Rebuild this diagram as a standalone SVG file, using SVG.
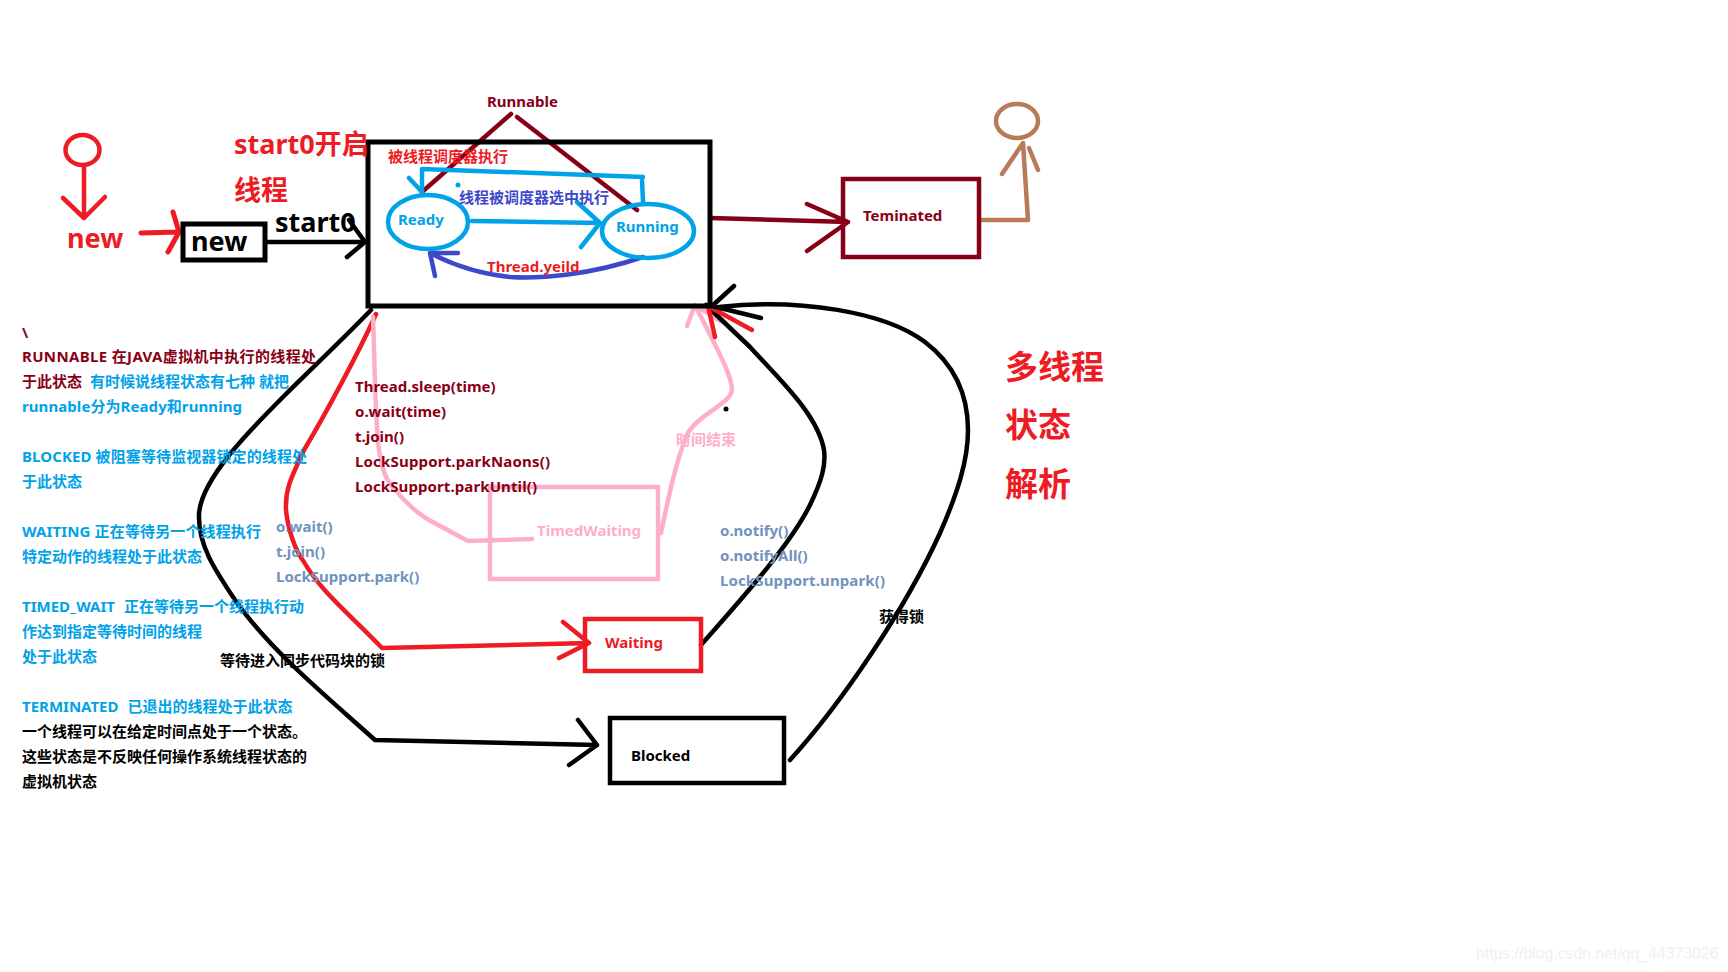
<svg xmlns="http://www.w3.org/2000/svg" width="1728" height="972" viewBox="0 0 1728 972">
<style>
text{font-family:"Noto Sans","Noto Sans CJK SC",sans-serif;font-size:15px;font-weight:700}
.l{fill:none;stroke-linecap:round;stroke-linejoin:round;stroke-width:4.500}
.b{fill:none;stroke-width:4.500}
.k{stroke:#000}.r{stroke:#ed1c24}.c{stroke:#00a2e8}.d{stroke:#880015}.p{stroke:#3f48cc}.g{stroke:#ffaec9}.w{stroke:#b97a57}
.tk{fill:#000}.tr{fill:#ed1c24}.tc{fill:#00a2e8}.td{fill:#880015}.tp{fill:#3f48cc}.tg{fill:#ffaec9}.tb{fill:#7092be}
.big{font-size:27px}.huge{font-size:33px}
</style>
<rect width="1728" height="972" fill="#fff"/>
<g id="connectors">
<path class="l k" d="M267 242H365M349 220L365 242L347 257"/>
<path class="l r" style="stroke-width:5" d="M141 233L179 232M173 212L179 232L168 252"/>
<path class="l d" d="M422 192L511 114M517 117L637 210"/>
<path class="l c" d="M472 221L600 223M577 202L600 223L581 247"/>
<path class="l c" d="M643 202L642 180M643 177L422 169V192M409 178L422 192"/>
<path class="l p" d="M643 257C590 275 540 279 510 277C480 274 455 266 430 253M458 253L430 253L435 276"/>
<path class="l k" d="M371 310C340 342 310 370 285 395C250 430 200 480 199 515C198 545 215 570 235 600C270 650 325 695 375 740L597 745M578 720L597 745L569 765"/>
<path class="l r" d="M376 314C360 350 325 415 304 450C290 480 285 490 286 510C288 530 295 550 304 562C320 590 345 610 382 648L589 643M563 622L589 643L559 658"/>
<path class="l g" d="M373 317C375 370 375 420 379 450C382 470 386 480 393 487C405 503 420 515 429 520L468 541L532 539"/>
<path class="l g" d="M661 533C668 500 675 465 686 437C695 415 730 405 732 390C732 375 715 345 695 305M687 326L695 305L722 322"/>
<circle class="tk" cx="726" cy="409" r="2.500"/>
<circle class="tc" cx="458" cy="185" r="2.500"/>
<path class="l k" d="M701 645C745 595 790 545 810 505C822 480 826 465 824 450C818 415 780 380 750 347L706 305"/>
<path class="l r" d="M708 306L752 330M708 306L715 337"/>
<path class="l k" d="M790 760C840 705 905 610 940 533C958 492 968 460 968 430C968 395 955 365 925 342C885 312 800 298 719 307M761 318L712 306L734 286"/>
<path class="l d" d="M710 218L848 222M807 204L848 222L807 251"/>
<path class="l w" d="M979 220H1028L1023 143L1002 174M1029 148L1038 170"/>
</g>
<g id="actor-start"><ellipse class="b r" cx="82.500" cy="150" rx="17" ry="15"/><path class="l r" d="M84 165V218M63 198L84 218L105 197"/><text class="tr big" x="67" y="248">new</text></g>
<g id="actor-end"><ellipse class="b w" cx="1017" cy="121" rx="21" ry="17"/></g>
<g id="node-new"><rect class="b k" style="stroke-width:5" x="183" y="224" width="82" height="36"/><text class="tk big" x="191" y="251">new</text></g>
<g id="node-runnable"><rect class="b k" style="stroke-width:5" x="368" y="142" width="342" height="164"/><text class="td" x="487" y="107">Runnable</text></g>
<g id="node-ready"><ellipse class="b c" cx="428" cy="222" rx="40" ry="27"/><text class="tc" x="398" y="225">Ready</text></g>
<g id="node-running"><ellipse class="b c" cx="648" cy="231" rx="46" ry="27"/><text class="tc" x="616" y="232">Running</text></g>
<g id="node-terminated"><rect class="b d" x="843" y="179" width="136" height="78"/><text class="td" x="863" y="221">Teminated</text></g>
<g id="node-timedwaiting"><rect class="b g" x="490" y="487" width="168" height="92"/><text class="tg" x="537" y="536">TimedWaiting</text></g>
<g id="node-waiting"><rect class="b r" x="585" y="619" width="116" height="52"/><text class="tr" x="605" y="648">Waiting</text></g>
<g id="node-blocked"><rect class="b k" x="610" y="718" width="174" height="65"/><text class="tk" x="631" y="761">Blocked</text></g>
<g id="labels">
<text class="tr big" x="234" y="154">start0开启</text>
<text class="tr big" x="234" y="200">线程</text>
<text class="tk big" x="275" y="232">start0</text>
<text class="tr" x="388" y="162">被线程调度器执行</text>
<text class="tp" x="459" y="203">线程被调度器选中执行</text>
<text class="tr" x="487" y="272">Thread.yeild</text>
<text class="td" x="22" y="338">\</text>
<text class="td" x="22" y="362" textLength="294">RUNNABLE 在JAVA虚拟机中执行的线程处</text>
<text x="22" y="387" class="td">于此状态<tspan class="tc" dx="8">有时候说线程状态有七种 就把</tspan></text>
<text class="tc" x="22" y="412" textLength="220">runnable分为Ready和running</text>
<text class="tc" x="22" y="462" textLength="285">BLOCKED 被阻塞等待监视器锁定的线程处</text>
<text class="tc" x="22" y="487">于此状态</text>
<text class="tc" x="22" y="537" textLength="239">WAITING 正在等待另一个线程执行</text>
<text class="tc" x="22" y="562">特定动作的线程处于此状态</text>
<text class="tc" x="22" y="612">TIMED_WAIT<tspan dx="9">正在等待另一个线程执行动</tspan></text>
<text class="tc" x="22" y="637">作达到指定等待时间的线程</text>
<text class="tc" x="22" y="662">处于此状态</text>
<text class="tc" x="22" y="712">TERMINATED<tspan dx="9">已退出的线程处于此状态</tspan></text>
<text class="tk" x="22" y="737">一个线程可以在给定时间点处于一个状态。</text>
<text class="tk" x="22" y="762">这些状态是不反映任何操作系统线程状态的</text>
<text class="tk" x="22" y="787">虚拟机状态</text>
<text class="td" x="355" y="392">Thread.sleep(time)</text>
<text class="td" x="355" y="417">o.wait(time)</text>
<text class="td" x="355" y="442">t.join()</text>
<text class="td" x="355" y="467" textLength="195">LockSupport.parkNaons()</text>
<text class="td" x="355" y="492" textLength="182">LockSupport.parkUntil()</text>
<text class="tb" x="276" y="532">o.wait()</text>
<text class="tb" x="276" y="557">t.join()</text>
<text class="tb" x="276" y="582">LockSupport.park()</text>
<text class="tk" x="220" y="666">等待进入同步代码块的锁</text>
<text class="tg" x="676" y="445">时间结束</text>
<text class="tb" x="720" y="536">o.notify()</text>
<text class="tb" x="720" y="561">o.notifyAll()</text>
<text class="tb" x="720" y="586" textLength="165">LockSupport.unpark()</text>
<text class="tk" x="879" y="622">获得锁</text>
<text class="tr huge" x="1005" y="379">多线程</text>
<text class="tr huge" x="1005" y="437">状态</text>
<text class="tr huge" x="1005" y="496">解析</text>
<text x="1476" y="959" style="font-family:'Liberation Sans',sans-serif;font-size:15.800px;font-weight:400;fill:#f0f0f0">https://blog.csdn.net/qq_44373026</text>
</g>
</svg>
